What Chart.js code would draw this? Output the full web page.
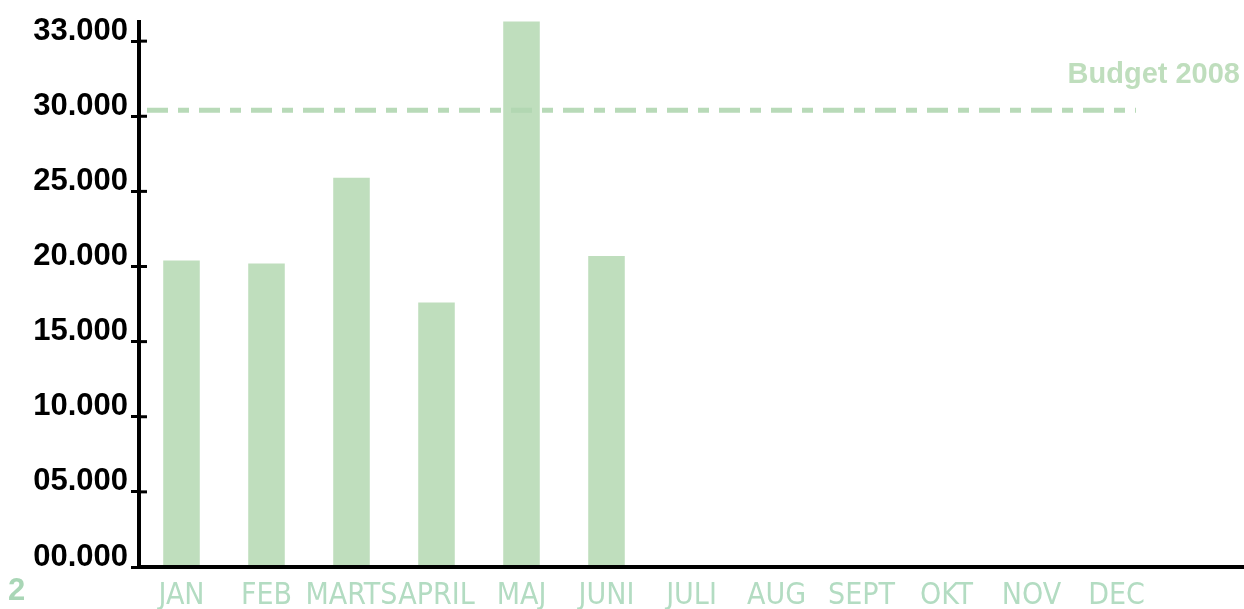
<!DOCTYPE html>
<html>
<head>
<meta charset="utf-8">
<script src="https://cdn.jsdelivr.net/npm/chart.js@4"></script>
<style>
  html, body { margin: 0; padding: 0; background: #fff; }
  #wrap { width: 1244px; height: 609px; position: relative; }
</style>
</head>
<body>
<div id="wrap"><canvas id="myChart"></canvas></div>
<script>
"use strict";
var months = ["JAN", "FEB", "MARTS", "APRIL", "MAJ", "JUNI", "JULI", "AUG", "SEPT", "OKT", "NOV", "DEC"];
var omsaetning = [20400, 20200, 25900, 17600, 36500, 20700, null, null, null, null, null, null];
var budget = 30400;
var budgetLabel = "Budget 2008";
var pageNo = "2";
// the top label sits where 35.000 would be on the drawn scale
var tickValues = [0, 5000, 10000, 15000, 20000, 25000, 30000, 35000];
var tickLabels = ["00.000", "05.000", "10.000", "15.000", "20.000", "25.000", "30.000", "33.000"];

var green = "#bfdebd";

var extras = {
    id: "extras",
    afterDatasetsDraw: function (chart) {
        var ctx = chart.ctx;
        var area = chart.chartArea;
        var y = chart.scales.y;
        ctx.save();
        // budget line
        var by = y.getPixelForValue(budget);
        ctx.strokeStyle = "rgba(176,214,176,0.9)";
        ctx.lineWidth = 5;
        ctx.setLineDash([21, 10, 11, 10]);
        ctx.beginPath();
        ctx.moveTo(area.left + 8, by);
        ctx.lineTo(1136, by);
        ctx.stroke();
        ctx.setLineDash([]);
        // x axis line to the edge
        ctx.strokeStyle = "#000";
        ctx.lineWidth = 4;
        ctx.beginPath();
        ctx.moveTo(area.left - 2, area.bottom);
        ctx.lineTo(chart.width, area.bottom);
        ctx.stroke();
        // inner half of the y ticks
        ctx.lineWidth = 3;
        y.ticks.forEach(function (t) {
            if (t.value === 0) return;
            var ty = y.getPixelForValue(t.value);
            ctx.beginPath();
            ctx.moveTo(area.left, ty);
            ctx.lineTo(area.left + 8, ty);
            ctx.stroke();
        });
        ctx.fillStyle = green;
        ctx.font = "bold 29px 'Liberation Sans', Arial, sans-serif";
        ctx.textAlign = "right";
        ctx.textBaseline = "alphabetic";
        ctx.fillText(budgetLabel, 1240, 83);
        ctx.fillStyle = "#a9d6b6";
        ctx.textAlign = "left";
        ctx.font = "bold 31px 'Liberation Sans', Arial, sans-serif";
        ctx.fillText(pageNo, 8, 600);
        ctx.restore();
    },
};

var ctx = document.getElementById("myChart").getContext("2d");
var myChart = new Chart(ctx, {
    type: "bar",
    data: {
        labels: months,
        datasets: [
            {
                label: "Omsætning",
                data: omsaetning,
                backgroundColor: green,
                barPercentage: 0.43,
                categoryPercentage: 1,
            },
        ],
    },
    options: {
        responsive: true,
        maintainAspectRatio: false,
        animation: false,
        layout: { padding: { top: 15, right: 85, left: 0, bottom: 0 } },
        plugins: {
            legend: { display: false },
            tooltip: { enabled: false },
        },
        scales: {
            x: {
                grid: { display: false, drawTicks: false },
                border: { display: false },
                ticks: {
                    color: "#b3dcc2",
                    font: { family: "'DejaVu Sans Condensed', 'Liberation Sans Narrow', sans-serif", size: 30 },
                    padding: 11,
                    maxRotation: 0,
                    autoSkip: false,
                },
                afterFit: function (scale) {
                    scale.height = 42;
                },
            },
            y: {
                min: 0,
                max: 36300,
                afterBuildTicks: function (scale) {
                    scale.ticks = tickValues.map(function (v) {
                        return { value: v };
                    });
                },
                grid: {
                    drawOnChartArea: false,
                    drawTicks: true,
                    tickLength: 8,
                    color: "#000",
                    lineWidth: 3,
                },
                border: { display: true, color: "#000", width: 4 },
                ticks: {
                    color: "#000",
                    padding: 3,
                    labelOffset: -10,
                    font: { family: "'Liberation Sans', Arial, sans-serif", size: 31, weight: "bold" },
                    callback: function (value, index) {
                        return tickLabels[index];
                    },
                },
                afterFit: function (scale) {
                    scale.width = 139;
                },
            },
        },
    },
    plugins: [extras],
});
</script>
</body>
</html>
